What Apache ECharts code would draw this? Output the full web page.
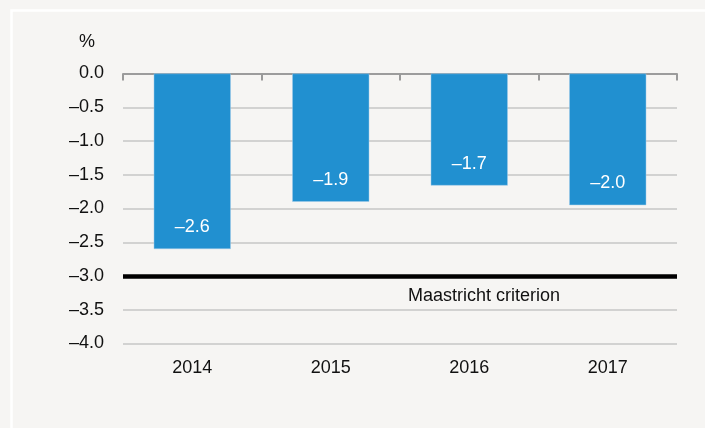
<!DOCTYPE html>
<html>
<head>
<meta charset="utf-8">
<style>
html,body{margin:0;padding:0;background:#f6f5f3;}
#chart{width:705px;height:428px;}
</style>
<script src="https://cdn.jsdelivr.net/npm/echarts@6/dist/echarts.min.js"></script>
</head>
<body>
<div id="chart"></div>
<script>
var categories = ['2014', '2015', '2016', '2017'];
var balance = [-2.6, -1.9, -1.66, -1.95];
var balanceLabels = ['\u20132.6', '\u20131.9', '\u20131.7', '\u20132.0'];
var criterionValue = -3.0;
var criterionText = 'Maastricht criterion';
var yUnit = '%';

var FONT = '"Liberation Sans", Arial, sans-serif';
var FS = 18;
var chart = echarts.init(document.getElementById('chart'), null, {renderer: 'canvas'});
chart.setOption({
  backgroundColor: '#f6f5f3',
  animation: false,
  graphic: [
    {type: 'rect', shape: {x: 11.5, y: 10.5, width: 720, height: 440},
     style: {fill: null, stroke: '#ffffff', lineWidth: 2.5}, z: -1},
    {type: 'text', left: 79, top: 33,
     style: {text: yUnit, font: FS + 'px ' + FONT, fill: '#111'}}
  ],
  grid: {left: 123, right: 28, top: 73.5, bottom: 84.5, containLabel: false},
  xAxis: [
    {type: 'category', data: categories, position: 'bottom',
     axisLine: {onZero: true, lineStyle: {color: '#8a8a8a', width: 1.5}},
     axisTick: {show: true, length: 7, lineStyle: {color: '#9a9a9a', width: 2}},
     axisLabel: {show: false}, splitLine: {show: false}},
    {type: 'category', data: categories, position: 'bottom',
     axisLine: {show: false, onZero: false}, axisTick: {show: false},
     axisLabel: {show: true, margin: 16, color: '#111', fontSize: FS, fontFamily: FONT}}
  ],
  yAxis: {
    type: 'value', min: -4, max: 0, interval: 0.5,
    axisLine: {show: false}, axisTick: {show: false},
    axisLabel: {margin: 19, color: '#111', fontSize: FS, fontFamily: FONT,
      formatter: function (v) { return v === 0 ? '0.0' : '\u2013' + Math.abs(v).toFixed(1); }},
    splitLine: {show: true, lineStyle: {color: '#c6c6c6', width: 1.5}}
  },
  series: [{
    type: 'bar', data: balance, xAxisIndex: 0, barWidth: 77,
    itemStyle: {color: '#2190d0', borderColor: '#9fcbe8', borderWidth: 0.5},
    label: {show: true, position: 'insideBottom', distance: 13, color: '#ffffff',
      fontSize: FS, fontFamily: FONT,
      formatter: function (p) { return balanceLabels[p.dataIndex]; }},
    markLine: {
      silent: true, symbol: 'none',
      lineStyle: {color: '#000', width: 4.5, type: 'solid'},
      label: {show: true, position: 'insideMiddleBottom', formatter: criterionText,
        color: '#111', fontSize: FS, fontFamily: FONT, offset: [84, 6]},
      data: [{yAxis: criterionValue}]
    }
  }]
});
</script>
</body>
</html>
